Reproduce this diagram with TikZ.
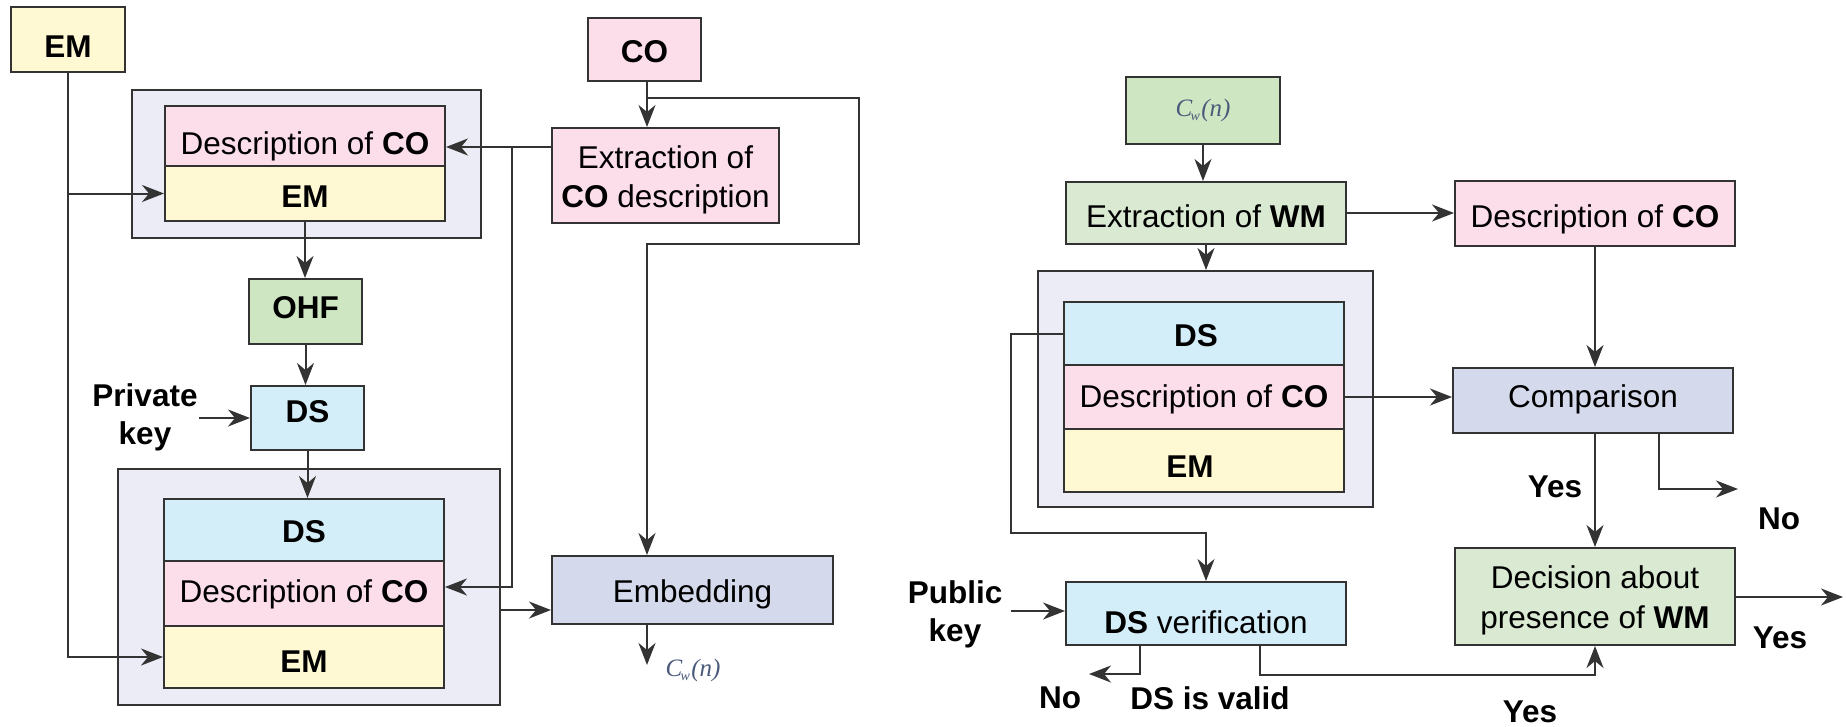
\documentclass[tikz,border=0pt]{standalone}
\usepackage{fontspec}
\setmainfont{Liberation Sans}
\newfontfamily\tmsfont{Liberation Serif}
\usetikzlibrary{arrows.meta}

\definecolor{lc}{HTML}{333333}
\definecolor{cyel}{HTML}{FFF9D3}
\definecolor{cpink}{HTML}{FCDDEA}
\definecolor{cgreen}{HTML}{CEE6C2}
\definecolor{cgreenl}{HTML}{D9E9D2}
\definecolor{cblue}{HTML}{D3EDF9}
\definecolor{clav}{HTML}{ECECF6}
\definecolor{cslate}{HTML}{D4D9EC}
\definecolor{cmath}{HTML}{4A5A7A}

\newcommand{\fsz}{\fontsize{31.5}{38}\selectfont}
\newcommand{\cwn}{{\fontsize{25}{25}\selectfont\tmsfont\itshape\color{cmath}C\kern-0.06em\raisebox{-0.35ex}{\fontsize{14}{14}\selectfont w}\kern0.05em(n)}}
% two centred lines, baseline on the first one
\newcommand{\twoline}[3]{\begin{tabular}[t]{@{}c@{}}#1\\[#3]#2\end{tabular}}

\tikzset{
  box/.style={draw=lc, line width=2pt, inner sep=0pt, align=center, font=\fsz},
  tv/.style={text height=#1, text depth=0pt},
  lbl/.style={inner sep=0pt, align=center, font=\fsz\bfseries},
  arr/.style={draw=lc, line width=2pt, -{Stealth[length=22pt,width=17pt,inset=7pt]}},
  ln/.style={draw=lc, line width=2pt},
}

\begin{document}
\begin{tikzpicture}[x=1pt, y=-1pt]
\useasboundingbox (0,0) rectangle (1846,726);

% ---------- embedding side ----------
\node[box, fill=clav, minimum width=349pt, minimum height=148pt] (outer1) at (306.5,164) {};
\node[box, fill=clav, minimum width=382pt, minimum height=236pt] (outer2) at (309,587) {};

\node[box, fill=cyel, minimum width=114pt, minimum height=65pt, tv=36.6pt] (emtop) at (68,39.5) {\textbf{EM}};
\node[box, fill=cpink, minimum width=280pt, minimum height=60pt, tv=36.6pt] (desc1) at (305,136) {Description of \textbf{CO}};
\node[box, fill=cyel, minimum width=280pt, minimum height=55pt, tv=27.6pt] (em1) at (305,193.5) {\textbf{EM}};
\node[box, fill=cgreen, minimum width=113pt, minimum height=65pt, tv=14.6pt] (ohf) at (305.5,311.5) {\textbf{OHF}};
\node[box, fill=cblue, minimum width=113pt, minimum height=64pt, tv=9.6pt] (ds1) at (307.5,418) {\textbf{DS}};
\node[box, fill=cblue, minimum width=280pt, minimum height=62pt, tv=24.6pt] (ds2) at (304,530) {\textbf{DS}};
\node[box, fill=cpink, minimum width=280pt, minimum height=65pt, tv=17.6pt] (desc2) at (304,593.5) {Description of \textbf{CO}};
\node[box, fill=cyel, minimum width=280pt, minimum height=62pt, tv=30.6pt] (em2) at (304,657) {\textbf{EM}};
\node[box, fill=cpink, minimum width=113pt, minimum height=63pt, tv=26.6pt] (co) at (644.5,49.5) {\textbf{CO}};
\node[box, fill=cpink, minimum width=227pt, minimum height=95pt, text height=0pt, text depth=14.4pt] (extr) at (665.5,175.5) {\twoline{Extraction of}{\textbf{CO} description}{1.5pt}};
\node[box, fill=cslate, minimum width=281pt, minimum height=68pt, tv=24.6pt] (emb) at (692.5,590) {Embedding};
\node[inner sep=0pt] (cw1) at (693,670) {\cwn};
\node[lbl] (pkeyl) at (145,417) {Private\\key};

\coordinate (pka) at (199,418);
\coordinate (j1) at (512,147);
\coordinate (j2) at (512,587);
\coordinate (k1) at (647,98);
\coordinate (k2) at (859,244);
\coordinate (m1) at (500,610);
\coordinate (cwout) at (647,665);

\draw[arr] (emtop.south |- em1.west) -- (em1.west);
\draw[arr] (emtop.south) |- (em2.west);
\draw[arr] (em1.south) -- (em1.south |- ohf.north);
\draw[arr] (ohf.south) -- (ohf.south |- ds1.north);
\draw[arr] (ds1.south) -- (ds1.south |- ds2.north);
\draw[arr] (pka) -- (ds1.west);
\draw[ln] (extr.west |- j1) -- (j1);
\draw[arr] (j1) -- (desc1.east |- j1);
\draw[arr] (j1) |- (desc2.east |- j2);
\draw[arr] (co.south -| k1) -- (k1 |- extr.north);
\draw[arr] (k1) -| (k2) -| (emb.north -| k1);
\draw[arr] (outer2.east |- m1) -- (emb.west |- m1);
\draw[arr] (emb.south -| cwout) -- (cwout);

% ---------- detection side ----------
\node[box, fill=clav, minimum width=335pt, minimum height=236pt] (outer3) at (1205.5,389) {};
\node[box, fill=cgreen, minimum width=154pt, minimum height=67pt] (cw2) at (1203,110.5) {\cwn};
\node[box, fill=cgreenl, minimum width=280pt, minimum height=62pt, tv=28.6pt] (exwm) at (1206,213) {Extraction of \textbf{WM}};
\node[box, fill=cblue, minimum width=280pt, minimum height=63pt, tv=26.6pt] (ds3) at (1204,333.5) {\textbf{DS}\kern16pt};
\node[box, fill=cpink, minimum width=280pt, minimum height=64pt, tv=20.6pt] (desc3) at (1204,397) {Description of \textbf{CO}};
\node[box, fill=cyel, minimum width=280pt, minimum height=63pt, tv=33.6pt] (em3) at (1204,460.5) {\textbf{EM}\kern28pt};
\node[box, fill=cpink, minimum width=280pt, minimum height=65pt, tv=27.6pt] (descR) at (1595,213.5) {Description of \textbf{CO}};
\node[box, fill=cslate, minimum width=280pt, minimum height=65pt, tv=13.6pt] (cmp) at (1593,400.5) {Comparison};
\node[box, fill=cgreenl, minimum width=280pt, minimum height=97pt, text height=0pt, text depth=16.4pt] (dec) at (1595,596.5) {\twoline{Decision about}{presence of \textbf{WM}}{2pt}};
\node[box, fill=cblue, minimum width=280pt, minimum height=63pt, tv=39.6pt] (dsv) at (1206,613.5) {\textbf{DS} verification};

\node[lbl] (pubk) at (955,614) {Public\\key};
\node[lbl] (no1) at (1060,698) {No};
\node[lbl] (valid) at (1210,698) {DS is valid};
\node[lbl] (yes1) at (1530,712) {Yes};
\node[lbl] (yes2) at (1555,487) {Yes};
\node[lbl] (no2) at (1779,519) {No};
\node[lbl] (yes3) at (1780,638) {Yes};

\coordinate (n1) at (1659,489);
\coordinate (n2) at (1738,489);
\coordinate (yout) at (1843,597);
\coordinate (d1) at (1011,334);
\coordinate (d2) at (1011,533);
\coordinate (pk) at (1011,611);
\coordinate (v1) at (1140,674);
\coordinate (v2) at (1089,674);
\coordinate (w1) at (1260,675);

\draw[arr] (cw2.south) -- (cw2.south |- exwm.north);
\draw[arr] (exwm.east) -- (descR.west |- exwm.east);
\draw[arr] (exwm.south) -- (exwm.south |- outer3.north);
\draw[arr] (desc3.east) -- (cmp.west |- desc3.east);
\draw[arr] (descR.south) -- (descR.south |- cmp.north);
\draw[arr] (cmp.south -| dec.north) -- (dec.north);
\draw[arr] (cmp.south -| n1) -- (n1) -- (n2);
\draw[arr] (dec.east |- yout) -- (yout);
\draw[arr] (ds3.west |- d1) -- (d1) -- (d2) -| (dsv.north);
\draw[arr] (pk) -- (dsv.west |- pk);
\draw[arr] (dsv.south -| v1) -- (v1) -- (v2);
\draw[arr] (dsv.south -| w1) -- (w1) -| (dec.south);
\end{tikzpicture}
\end{document}
